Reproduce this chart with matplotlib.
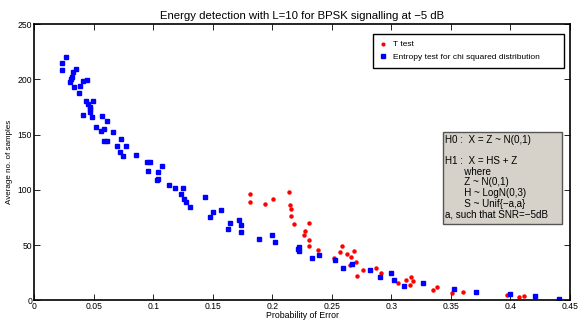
import matplotlib
matplotlib.use('Agg')
import matplotlib.pyplot as plt
from matplotlib.patches import Rectangle

plt.rcParams['font.family'] = ['Liberation Sans', 'DejaVu Sans']

# ====== DATOS ======
# Entropy test (blue squares)
pe_entropia = [0.0263, 0.0237, 0.0229, 0.0352, 0.0327, 0.0319, 0.0307, 0.0299, 0.0408, 0.0441,
               0.0330, 0.0386, 0.0372, 0.0436, 0.0492, 0.0453, 0.0466, 0.0466, 0.0472, 0.0411,
               0.0487, 0.0565, 0.0609, 0.0517, 0.0562, 0.0587, 0.0663, 0.0584, 0.0607, 0.0732,
               0.0696, 0.0768, 0.0721, 0.0747, 0.0852, 0.0948, 0.0970, 0.1076, 0.0956, 0.1037,
               0.1029, 0.1040, 0.1133, 0.1185, 0.1247, 0.1233, 0.1261, 0.1275, 0.1305, 0.1431,
               0.1502, 0.1477, 0.1571, 0.1722, 0.1647, 0.1739, 0.1630, 0.1733, 0.1888, 0.1997,
               0.2027, 0.2228, 0.2217, 0.2226, 0.2335, 0.2391, 0.2525, 0.2595, 0.2673, 0.2821,
               0.2905, 0.3000, 0.3020, 0.3107, 0.3266, 0.3529, 0.3708, 0.3998, 0.4205, 0.4409]
n_entropia = [220.3, 215.1, 208.5, 209.7, 207.2, 202.7, 200.3, 197.6, 198.2, 199.1,
              193.3, 194.2, 187.7, 180.4, 180.1, 177.7, 175.5, 173.2, 170.7, 167.9,
              165.6, 166.8, 162.6, 156.8, 153.4, 155.0, 152.3, 144.4, 144.4, 146.5,
              140.2, 139.8, 134.4, 130.5, 131.7, 125.4, 125.7, 121.8, 117.2, 116.0,
              109.0, 109.9, 104.5, 101.5, 102.1, 96.0, 92.1, 88.8, 84.3, 93.4,
              80.3, 75.8, 82.2, 73.1, 70.0, 68.0, 64.7, 61.9, 55.5, 59.2,
              52.5, 48.5, 46.8, 44.4, 38.4, 41.0, 36.5, 29.5, 32.6, 27.5,
              21.1, 24.8, 18.4, 13.3, 15.9, 10.5, 7.8, 5.4, 3.6, 1.4]

# T test (red dots)
pe_t = [0.1815, 0.1809, 0.1940, 0.2002, 0.2142, 0.2150, 0.2156, 0.2161, 0.2181, 0.2312,
        0.2276, 0.2270, 0.2307, 0.2312, 0.2381, 0.2519, 0.2589, 0.2570, 0.2631, 0.2685,
        0.2659, 0.2704, 0.2651, 0.2765, 0.2712, 0.2872, 0.2916, 0.3056, 0.3126, 0.3168,
        0.3185, 0.3159, 0.3352, 0.3383, 0.3512, 0.3602, 0.3971, 0.4074, 0.4116, 0.4211]
n_t = [96.0, 89.4, 87.3, 91.8, 98.2, 86.1, 82.5, 76.1, 69.2, 69.8,
       63.1, 59.4, 54.9, 49.5, 45.3, 38.4, 48.9, 43.8, 42.3, 44.9,
       39.5, 34.8, 32.0, 27.1, 22.0, 29.5, 24.5, 15.7, 18.7, 20.9,
       17.2, 13.6, 9.6, 11.8, 6.4, 7.8, 5.0, 3.3, 3.6, 3.0]

texto_hipotesis = ('H0 :  X = Z ~ N(0,1)\n'
                   '\n'
                   'H1 :  X = HS + Z\n'
                   '       where\n'
                   '       Z ~ N(0,1)\n'
                   '       H ~ LogN(0,3)\n'
                   '       S ~ Unif{\u2212a,a}\n'
                   'a, such that SNR=\u22125dB')

# ====== GRAFICAR ======
fig = plt.figure(figsize=(5.78, 3.2), dpi=100)
ax = fig.add_axes([0.0593, 0.0616, 0.9265, 0.8625])

ax.plot(pe_t, n_t, linestyle='none', marker='o', color='red', markersize=2.2,
        label='T test')
ax.plot(pe_entropia, n_entropia, linestyle='none', marker='s', color='blue', markersize=3.2,
        label='Entropy test for chi squared distribution')

ax.set_xlim(0, 0.45)
ax.set_ylim(0, 250)
ax.set_xticks([0, 0.05, 0.1, 0.15, 0.2, 0.25, 0.3, 0.35, 0.4, 0.45])
ax.set_xticklabels(['0', '0.05', '0.1', '0.15', '0.2', '0.25', '0.3', '0.35', '0.4', '0.45'])
ax.set_yticks([0, 50, 100, 150, 200, 250])
ax.tick_params(direction='in', top=True, right=True, labelsize=6.2, length=4, width=0.6, pad=1.5)
for lado in ax.spines.values():
    lado.set_linewidth(1.2)

ax.set_title('Energy detection with L=10 for BPSK signalling at \u22125 dB', fontsize=8.2, pad=4)
ax.set_xlabel('Probability of Error', fontsize=6.3, labelpad=0)
ax.set_ylabel('Average no. of samples', fontsize=5.8, labelpad=3)

leg = ax.legend(loc='upper left', bbox_to_anchor=(0.6325, 0.0, 0.3567, 0.965), mode='expand',
                borderaxespad=0, fontsize=6, fancybox=False, framealpha=1, edgecolor='black',
                handlelength=0.8, handletextpad=0.8, borderpad=0.8, labelspacing=0.6,
                markerscale=0.9)
leg.get_frame().set_linewidth(1.0)

# caja de hipotesis
caja = Rectangle((0.7627, 0.2754), 0.2222, 0.3355, transform=ax.transAxes,
                 facecolor='#d6d2ca', edgecolor='#555555', linewidth=1.0, zorder=4)
ax.add_patch(caja)
ax.text(0.767, 0.6, texto_hipotesis, transform=ax.transAxes, fontsize=7.1,
        va='top', ha='left', linespacing=1.08, zorder=5)

plt.savefig('out.png', dpi=100)
